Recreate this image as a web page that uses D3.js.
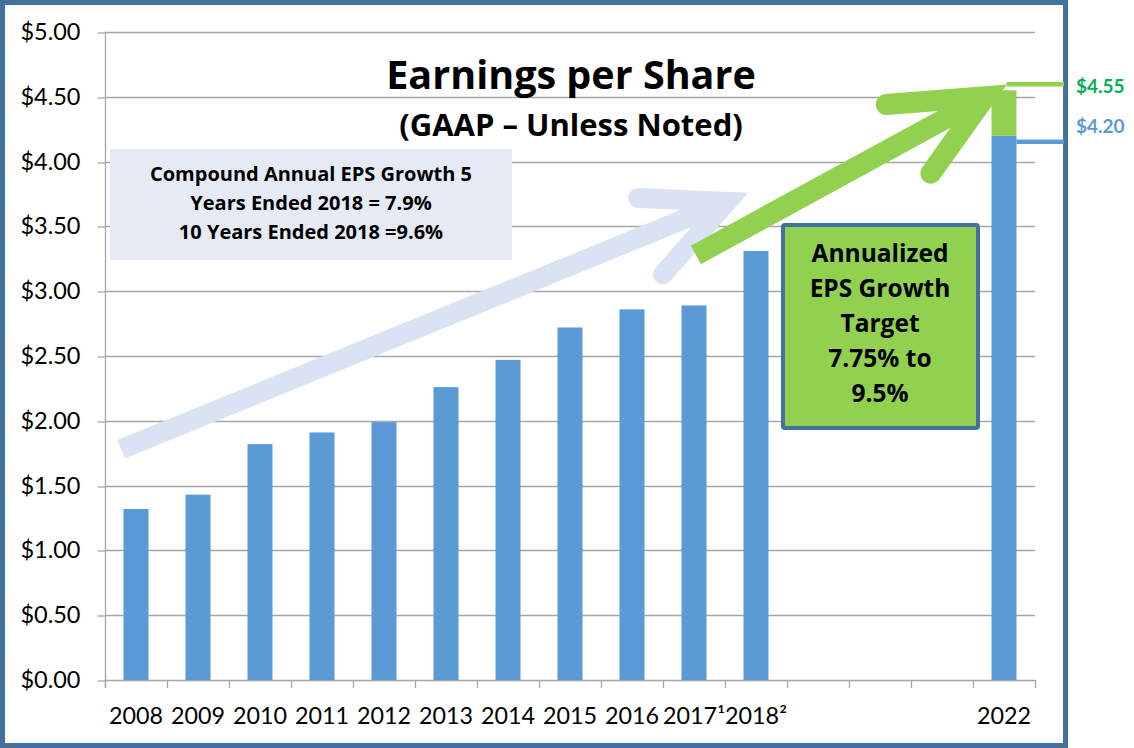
<!DOCTYPE html>
<html>
<head>
<meta charset="utf-8">
<script src="https://cdn.jsdelivr.net/npm/d3@7"></script>
<style>
  html, body { margin: 0; padding: 0; background: #ffffff; }
  svg { display: block; font-family: Lato, "Open Sans", sans-serif; }
  .b { font-family: "Open Sans", Lato, sans-serif; font-weight: bold; }
</style>
</head>
<body>
<svg id="chart" width="1134" height="748"></svg>
<script>
// ---- data ----
const categories = ["2008","2009","2010","2011","2012","2013","2014","2015","2016","2017","2018","2019","2020","2021","2022"];
const tickLabels = ["2008","2009","2010","2011","2012","2013","2014","2015","2016","2017¹","2018²","","","","2022"];
const eps = [1.32, 1.43, 1.82, 1.91, 1.99, 2.26, 2.47, 2.72, 2.86, 2.89, 3.31, null, null, null, 4.20];
const targetLow = 4.20;
const targetHigh = 4.55;
const yTicks = [0, 0.5, 1, 1.5, 2, 2.5, 3, 3.5, 4, 4.5, 5];
const cagrLines = ["Compound Annual EPS Growth 5", "Years Ended 2018 = 7.9%", "10 Years Ended 2018 =9.6%"];
const targetLines = ["Annualized", "EPS Growth", "Target", "7.75% to", "9.5%"];
// arrows in data space: [category position (0..15), value]
const histArrow = { tail: [0.26, 1.78], tip: [10.03, 3.69], arm1: [8.6, 3.72], arm2: [9.0, 3.13] };
const targetArrow = { tail: [9.53, 3.28], tip: [14.2, 4.50], arm1: [12.6, 4.44], arm2: [13.32, 3.91] };

// ---- layout ----
const svg = d3.select("#chart");
const plotL = 105, plotR = 1035, plotT = 32, plotB = 680;
const pi = 0.597;
const x = d3.scaleBand().domain(categories).range([plotL, plotR]).paddingInner(pi).paddingOuter(pi / 2);
const xPos = d3.scaleLinear().domain([0, categories.length]).range([plotL, plotR]);
const y = d3.scaleLinear().domain([0, 5]).range([plotB, plotT]);

const blue = "#5b9bd5", green = "#92d050", frame = "#41719c", grid = "#a6a6a6";

// frame
svg.append("rect").attr("x", 2.5).attr("y", 2.5).attr("width", 1063).attr("height", 743)
  .attr("fill", "#ffffff").attr("stroke", frame).attr("stroke-width", 5);

// gridlines
svg.append("g").selectAll("line").data(yTicks).join("line")
  .attr("x1", plotL).attr("x2", plotR)
  .attr("y1", d => Math.round(y(d)) + 0.5).attr("y2", d => Math.round(y(d)) + 0.5)
  .attr("stroke", grid).attr("stroke-width", 1.3);

// y axis
const yAxis = svg.append("g").attr("transform", `translate(${plotL + 0.5},0)`)
  .call(d3.axisLeft(y).tickValues(yTicks).tickFormat(d => "$" + d.toFixed(2)).tickSize(8).tickPadding(17));
yAxis.select(".domain").attr("stroke", grid).attr("stroke-width", 1.3).attr("d", `M0,${plotT}V${plotB + 8}`);
yAxis.selectAll(".tick line").attr("stroke", grid).attr("stroke-width", 1.3)
  .attr("transform", d => `translate(0,${Math.round(y(d)) + 0.5 - y(d)})`);
yAxis.selectAll(".tick text").attr("font-size", 23.5).attr("fill", "#000").attr("font-family", "Lato");

// x axis ticks at band boundaries
const boundaries = categories.map((c, i) => xPos(i)).concat([xPos(categories.length)]);
svg.append("g").selectAll("line").data(boundaries).join("line")
  .attr("x1", d => Math.round(d) + 0.5).attr("x2", d => Math.round(d) + 0.5)
  .attr("y1", plotB).attr("y2", plotB + 8)
  .attr("stroke", grid).attr("stroke-width", 1.3);
svg.append("g").selectAll("text").data(categories).join("text")
  .attr("x", d => x(d) + x.bandwidth() / 2).attr("y", 724)
  .attr("text-anchor", "middle").attr("font-size", 23.3).attr("fill", "#000")
  .text((d, i) => tickLabels[i]);

// text box (CAGR)
svg.append("rect").attr("x", 110).attr("y", 149).attr("width", 402).attr("height", 111).attr("fill", "#e6eaf5");
svg.append("g").selectAll("text").data(cagrLines).join("text")
  .attr("class", "b")
  .attr("x", 311).attr("y", (d, i) => 181 + i * 29)
  .attr("text-anchor", "middle").attr("font-size", 20).attr("fill", "#000")
  .text(d => d);

// bars
const barData = categories.map((c, i) => ({ c, v: eps[i] })).filter(d => d.v != null);
svg.append("g").selectAll("rect").data(barData).join("rect")
  .attr("x", d => x(d.c)).attr("width", x.bandwidth())
  .attr("y", d => y(d.v)).attr("height", d => y(0) - y(d.v))
  .attr("fill", blue);
// target stacked segment
const lastCat = categories[categories.length - 1];
svg.append("rect").attr("x", x(lastCat)).attr("width", x.bandwidth())
  .attr("y", y(targetHigh)).attr("height", y(targetLow) - y(targetHigh)).attr("fill", green);

// arrows
function drawArrow(a, color, w) {
  const P = p => [xPos(p[0]), y(p[1])];
  const t = P(a.tail), tp = P(a.tip), a1 = P(a.arm1), a2 = P(a.arm2);
  const dx = tp[0] - t[0], dy = tp[1] - t[1], L = Math.hypot(dx, dy);
  const end = [tp[0] - dx / L * w * 0.9, tp[1] - dy / L * w * 0.9];
  svg.append("path").attr("d", d3.line()([t, end]))
    .attr("stroke", color).attr("stroke-width", w).attr("fill", "none").attr("stroke-linecap", "butt");
  svg.append("path").attr("d", d3.line()([a1, tp, a2]))
    .attr("stroke", color).attr("stroke-width", w).attr("fill", "none")
    .attr("stroke-linecap", "round").attr("stroke-linejoin", "miter").attr("stroke-miterlimit", 10);
}
drawArrow(histArrow, "#dae3f3", 20);
drawArrow(targetArrow, green, 21);

// title
svg.append("text").attr("class", "b").attr("x", 571).attr("y", 89).attr("text-anchor", "middle")
  .attr("font-size", 39.5).attr("fill", "#000").text("Earnings per Share");
svg.append("text").attr("class", "b").attr("x", 571).attr("y", 136).attr("text-anchor", "middle")
  .attr("font-size", 31).attr("fill", "#000").text("(GAAP – Unless Noted)");

// target box
svg.append("rect").attr("x", 783).attr("y", 225).attr("width", 195).attr("height", 203).attr("rx", 2)
  .attr("fill", green).attr("stroke", "#41719c").attr("stroke-width", 4);
svg.append("g").selectAll("text").data(targetLines).join("text")
  .attr("class", "b")
  .attr("x", 880).attr("y", (d, i) => 262 + i * 35)
  .attr("text-anchor", "middle").attr("font-size", 24.5).attr("fill", "#000")
  .text(d => d);

// leader lines and value labels
const bx = x(lastCat), bw = x.bandwidth();
svg.append("line").attr("x1", bx + 15).attr("x2", 1064).attr("y1", y(targetHigh) - 6).attr("y2", y(targetHigh) - 6)
  .attr("stroke", green).attr("stroke-width", 4.5);
svg.append("line").attr("x1", bx + bw).attr("x2", 1064).attr("y1", y(targetLow) + 6).attr("y2", y(targetLow) + 6)
  .attr("stroke", blue).attr("stroke-width", 4.5);
svg.append("text").attr("x", 1076).attr("y", 93).attr("font-size", 19).attr("font-weight", "bold")
  .attr("fill", "#00b050").text("$" + targetHigh.toFixed(2));
svg.append("text").attr("x", 1076).attr("y", 133).attr("font-size", 19).attr("font-weight", "bold")
  .attr("fill", blue).text("$" + targetLow.toFixed(2));
</script>
</body>
</html>
